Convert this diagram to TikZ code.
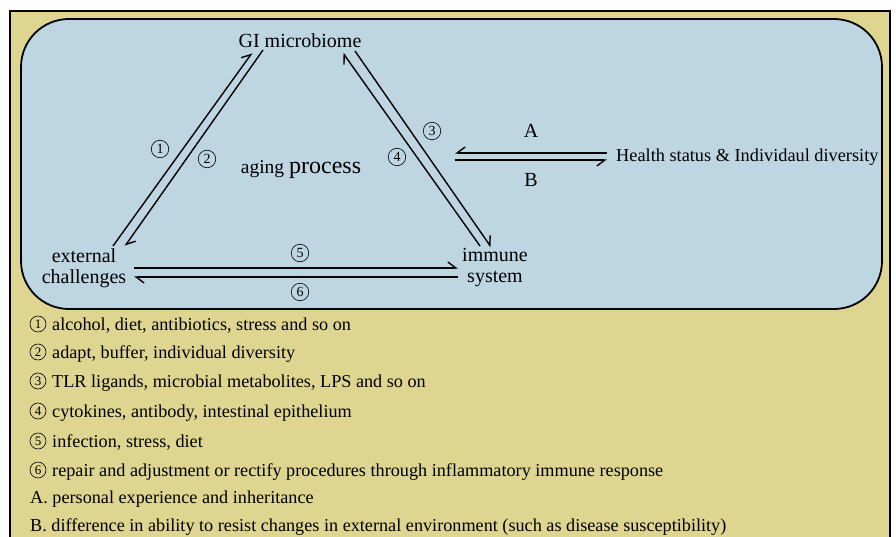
\documentclass[tikz,border=0pt]{standalone}
\usepackage{fontspec}
\setmainfont{Liberation Serif}
\usetikzlibrary{arrows.meta}
\definecolor{khaki}{RGB}{222,214,144}
\definecolor{paleblue}{RGB}{190,213,226}
\tikzset{
  lab/.style={font=\fontsize{20}{21}\selectfont, inner sep=0pt, align=center},
  num/.style={circle, draw, line width=0.6pt, inner sep=0pt, minimum size=17.5pt, font=\fontsize{14}{14}\selectfont},
  lnum/.style={circle, draw, line width=0.6pt, inner sep=0pt, minimum size=16pt, font=\fontsize{13}{13}\selectfont},
  leg/.style={font=\fontsize{18.2}{20}\selectfont, inner sep=0pt, anchor=base west},
  harpL/.style={line width=1.4pt, -{Straight Barb[harpoon,length=8pt,width=12pt,line width=1.4pt]}},
  harpR/.style={line width=1.4pt, -{Straight Barb[harpoon,swap,length=8pt,width=12pt,line width=1.4pt]}},
}
\begin{document}
\begin{tikzpicture}[x=1pt,y=-1pt]
\useasboundingbox (0,0) rectangle (896,537);
\clip (0,0) rectangle (896,537);
\draw[fill=khaki, line width=1.2pt] (10,11) rectangle (890,560);
\draw[fill=paleblue, line width=1.8pt, rounded corners=48pt] (21,19) rectangle (882,309);

% main nodes
\node[lab] (gi) at (300,41) {GI microbiome};
\node[lab] (ext) at (84,268) {external\\challenges};
\node[lab] (imm) at (495,268) {immune\\system};
\node[lab, anchor=base] (aging) at (301,174) {{\fontsize{19.5}{20}\selectfont aging} {\fontsize{24}{24}\selectfont process}};
\node[font=\fontsize{18.3}{20}\selectfont, inner sep=0pt, anchor=west] (hs) at (616,157) {Health status \& Individaul diversity};

% connector end points
\coordinate (a1s) at (113,246); \coordinate (a1e) at (252,53);
\coordinate (a2s) at (263,50);  \coordinate (a2e) at (125,246);
\coordinate (a3s) at (355,51);  \coordinate (a3e) at (491,247);
\coordinate (a4s) at (480,246); \coordinate (a4e) at (343,53);
\coordinate (a5s) at (134,268); \coordinate (a5e) at (458,268);
\coordinate (a6s) at (458,277); \coordinate (a6e) at (134,277);
\coordinate (aAs) at (607,153); \coordinate (aAe) at (455,153);
\coordinate (aBs) at (455,160); \coordinate (aBe) at (607,160);

\draw[harpL] (a1s) -- (a1e);
\draw[harpL] (a2s) -- (a2e);
\draw[harpL] (a3s) -- (a3e);
\draw[harpL] (a4s) -- (a4e);
\draw[harpL] (a5s) -- (a5e);
\draw[harpL] (a6s) -- (a6e);
\draw[harpR] (aAs) -- (aAe);
\draw[harpR] (aBs) -- (aBe);

% labels
\node[num] (n1) at (160,149) {1};
\node[num] (n2) at (207,159) {2};
\node[num] (n3) at (432,131) {3};
\node[num] (n4) at (397,157) {4};
\node[num] (n5) at (300,253) {5};
\node[num] (n6) at (300,292) {6};
\node[lab] (lA) at (531,131) {A};
\node[lab] (lB) at (531,180) {B};

% legend
\node[lnum] (c1) at (38,324) {1};
\node[lnum] (c2) at (38,352) {2};
\node[lnum] (c3) at (38,381) {3};
\node[lnum] (c4) at (38,411) {4};
\node[lnum] (c5) at (38,441) {5};
\node[lnum] (c6) at (38,470) {6};
\node[leg] (l1) at (52,330) {alcohol, diet, antibiotics, stress and so on};
\node[leg] (l2) at (52,358) {adapt, buffer, individual diversity};
\node[leg] (l3) at (52,387) {TLR ligands, microbial metabolites, LPS and so on};
\node[leg] (l4) at (52,417) {cytokines, antibody, intestinal epithelium};
\node[leg] (l5) at (52,447) {infection, stress, diet};
\node[leg] (l6) at (52,476) {repair and adjustment or rectify procedures through inflammatory immune response};
\node[leg] (lA2) at (30,503) {A. personal experience and inheritance};
\node[leg] (lB2) at (30,531) {B. difference in ability to resist changes in external environment (such as disease susceptibility)};
\end{tikzpicture}
\end{document}
